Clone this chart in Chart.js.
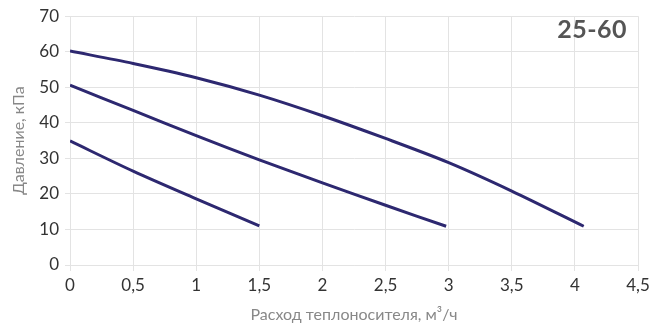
<!DOCTYPE html>
<html>
<head>
<meta charset="utf-8">
<script src="https://cdn.jsdelivr.net/npm/chart.js@4/dist/chart.umd.min.js"></script>
<style>
  body { margin: 0; background: #fff; }
  #wrap { position: relative; width: 671px; height: 328px; }
  #model { position: absolute; top: 16px; right: 44px; font: bold 25px Lato, sans-serif; letter-spacing: 0.5px; color: #555; line-height: 1; }
</style>
</head>
<body>
<div id="wrap">
  <canvas id="chart"></canvas>
  <div id="model">25-60</div>
</div>
<script>
// кривые насоса, расход м3/ч -> давление кПа
const flowHigh = [0, 0.5, 1, 1.5, 2, 2.5, 3, 3.5, 4.07];
const headHigh = [60.2, 56.7, 52.7, 47.8, 42.0, 35.6, 28.8, 20.8, 10.9];

const flowMid = [0, 0.5, 1, 1.5, 2, 2.5, 2.98];
const headMid = [50.6, 43.5, 36.4, 29.6, 23.1, 16.8, 10.9];

const flowLow = [0, 0.5, 1, 1.5];
const headLow = [34.9, 26.4, 18.6, 11.0];

const xTitle = 'Расход теплоносителя, м³/ч';
const yTitle = 'Давление, кПа';

const lineColor = '#2d2870';
const gridColor = '#e3e3e3';

function toPoints(xs, ys) {
    return xs.map((x, i) => ({ x: x, y: ys[i] }));
}

function curve(xs, ys) {
    return {
        data: toPoints(xs, ys),
        borderColor: lineColor,
        borderWidth: 3,
        pointRadius: 0,
        tension: 0.3,
        fill: false
    };
}

const ctx = document.getElementById('chart').getContext('2d');
new Chart(ctx, {
    type: 'line',
    data: {
        datasets: [
            curve(flowHigh, headHigh),
            curve(flowMid, headMid),
            curve(flowLow, headLow)
        ]
    },
    options: {
        responsive: true,
        maintainAspectRatio: false,
        animation: false,
        layout: { padding: { top: 13, right: 33 } },
        plugins: { legend: { display: false }, tooltip: { enabled: false } },
        scales: {
            x: {
                type: 'linear',
                min: 0,
                max: 4.5,
                afterFit: s => { s.height = 63; },
                grid: { color: gridColor, tickLength: 6 },
                border: { color: gridColor },
                ticks: {
                    stepSize: 0.5,
                    padding: 4,
                    color: '#333',
                    font: { family: 'Lato', size: 17 },
                    callback: v => String(v).replace('.', ',')
                },
                title: {
                    display: true,
                    text: xTitle,
                    color: '#888',
                    font: { family: 'Lato', size: 16 },
                    padding: { top: 0, bottom: 4 }
                }
            },
            y: {
                min: 0,
                max: 70,
                afterFit: s => { s.width = 70; },
                grid: { color: gridColor, tickLength: 5 },
                border: { color: gridColor },
                ticks: {
                    stepSize: 10,
                    padding: 6,
                    color: '#333',
                    font: { family: 'Lato', size: 17 }
                },
                title: {
                    display: true,
                    text: yTitle,
                    color: '#888',
                    font: { family: 'Lato', size: 16 },
                    padding: { top: 9, bottom: 0 }
                }
            }
        }
    }
});
</script>
</body>
</html>
